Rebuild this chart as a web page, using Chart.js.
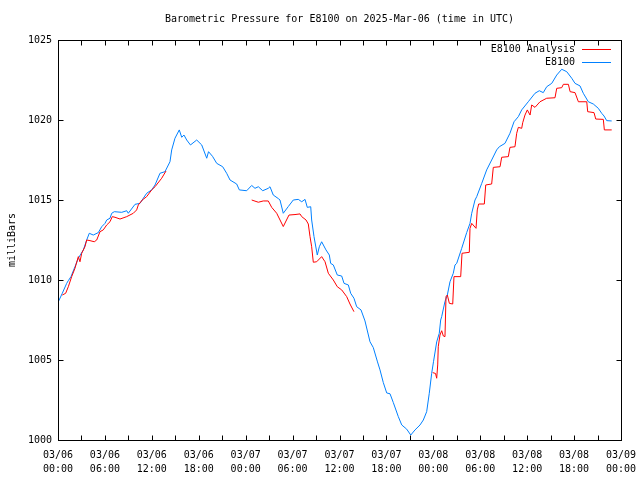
<!DOCTYPE html>
<html>
<head>
<meta charset="utf-8">
<script src="https://cdn.jsdelivr.net/npm/chart.js@4.4.1/dist/chart.umd.min.js"></script>
<style>
  html, body { margin: 0; padding: 0; background: #fff; }
  canvas { display: block; }
</style>
</head>
<body>
<canvas id="pressureChart" width="640" height="480"></canvas>
<script>
// hours since 03/06 00:00 UTC, pressure in millibars
const stationHours = [0.04, 0.55, 1.11, 1.32, 1.66, 2.17, 2.60, 3.24, 3.67, 4.00, 4.51, 5.15, 5.59, 6.01, 6.23, 6.65, 6.87, 7.20, 8.15, 8.79, 8.99, 9.85, 10.49, 10.91, 11.34, 11.98, 12.41, 13.04, 13.68, 14.32, 14.54, 14.96, 15.51, 15.82, 16.11, 16.46, 16.94, 17.74, 18.38, 19.02, 19.25, 19.76, 20.30, 21.06, 21.57, 22.00, 22.85, 23.19, 24.13, 24.77, 25.19, 25.62, 26.18, 26.89, 27.11, 27.53, 28.17, 28.39, 28.81, 29.45, 30.09, 30.73, 31.17, 31.59, 31.88, 32.32, 32.44, 32.74, 33.16, 33.42, 33.72, 34.27, 34.70, 34.87, 35.21, 35.72, 36.28, 36.58, 37.13, 37.43, 37.85, 38.20, 38.75, 39.26, 39.90, 40.32, 40.86, 41.18, 41.60, 42.04, 42.46, 42.88, 43.52, 43.96, 44.59, 45.11, 45.66, 46.30, 46.72, 47.15, 47.48, 47.79, 48.02, 48.43, 48.76, 48.94, 49.07, 49.49, 49.79, 50.13, 50.55, 50.77, 50.99, 51.63, 52.27, 52.69, 52.91, 53.33, 53.55, 54.19, 54.82, 55.46, 56.10, 56.44, 57.16, 57.80, 58.32, 58.87, 59.30, 60.14, 61.00, 61.55, 62.06, 62.50, 63.14, 63.78, 64.42, 65.06, 65.70, 66.12, 66.76, 67.18, 67.82, 68.46, 69.10, 69.53, 69.83, 70.17, 70.81];
const stationPressure = [1008.64, 1009.17, 1009.79, 1009.96, 1010.21, 1010.83, 1011.36, 1011.88, 1012.50, 1012.92, 1012.81, 1012.96, 1013.33, 1013.54, 1013.75, 1013.86, 1014.17, 1014.27, 1014.23, 1014.33, 1014.17, 1014.73, 1014.79, 1015.11, 1015.42, 1015.63, 1015.94, 1016.67, 1016.77, 1017.39, 1018.13, 1018.86, 1019.38, 1018.92, 1019.06, 1018.75, 1018.44, 1018.75, 1018.44, 1017.61, 1018.02, 1017.73, 1017.29, 1017.08, 1016.67, 1016.25, 1016.00, 1015.63, 1015.58, 1015.91, 1015.73, 1015.83, 1015.58, 1015.73, 1015.83, 1015.31, 1015.09, 1015.00, 1014.17, 1014.59, 1015.00, 1015.04, 1014.89, 1015.04, 1014.54, 1014.58, 1013.75, 1012.71, 1011.56, 1012.08, 1012.39, 1011.88, 1011.56, 1011.04, 1010.94, 1010.31, 1010.25, 1009.79, 1009.69, 1009.17, 1008.86, 1008.33, 1008.13, 1007.44, 1006.14, 1005.78, 1004.88, 1004.38, 1003.59, 1002.94, 1002.89, 1002.34, 1001.46, 1000.94, 1000.68, 1000.31, 1000.63, 1000.94, 1001.25, 1001.77, 1002.92, 1004.17, 1004.89, 1006.13, 1006.67, 1007.50, 1007.71, 1008.66, 1009.06, 1009.89, 1010.42, 1010.94, 1011.04, 1011.98, 1012.97, 1013.54, 1014.17, 1015.00, 1015.21, 1016.04, 1016.88, 1017.50, 1018.13, 1018.33, 1018.54, 1019.17, 1019.89, 1020.21, 1020.63, 1021.14, 1021.67, 1021.83, 1021.71, 1022.08, 1022.29, 1022.81, 1023.17, 1023.02, 1022.61, 1022.29, 1022.13, 1021.67, 1021.14, 1021.00, 1020.73, 1020.42, 1020.25, 1019.96, 1019.94];

// analysis series, null = no data (gap in the line)
const analysisHours = [0.55, 0.98, 1.32, 1.75, 2.17, 2.60, 2.81, 3.03, 3.45, 3.67, 4.09, 4.64, 4.95, 5.37, 5.79, 6.23, 6.65, 6.94, 7.29, 7.93, 8.79, 9.63, 10.06, 10.27, 10.78, 11.34, 11.98, 12.41, 13.26, 13.81,
    20.00,
    24.77, 25.62, 26.25, 26.89, 27.33, 27.97, 28.81, 29.54, 30.31, 30.95, 31.17, 31.72, 32.01, 32.23, 32.44, 32.65, 33.08, 33.72, 34.15, 34.57, 35.21, 35.72, 36.28, 36.92, 37.34, 37.85,
    42.00,
    47.92, 48.28, 48.43, 48.56, 48.63, 48.85, 49.07, 49.28, 49.49, 49.62, 49.79, 50.05, 50.48, 50.64, 51.50, 51.67, 52.60, 52.69, 52.91, 53.46, 53.62, 53.80, 54.52, 54.70, 55.46, 55.67, 56.53, 56.74, 57.59, 57.80, 58.44, 58.66, 58.87, 59.30, 59.43, 59.72, 60.02, 60.37, 60.58, 61.00, 61.64, 62.50, 63.56, 63.78, 64.42, 64.63, 65.27, 65.49, 66.12, 66.55, 67.62, 67.74, 68.55, 68.77, 69.74, 69.87, 70.81];
const analysisPressure = [1009.06, 1009.17, 1009.58, 1010.21, 1010.73, 1011.46, 1011.14, 1011.67, 1012.08, 1012.50, 1012.46, 1012.39, 1012.50, 1013.02, 1013.13, 1013.44, 1013.64, 1013.96, 1013.92, 1013.81, 1013.96, 1014.17, 1014.38, 1014.69, 1015.00, 1015.21, 1015.63, 1015.83, 1016.36, 1016.81,
    null,
    1015.00, 1014.86, 1014.94, 1014.94, 1014.54, 1014.17, 1013.34, 1014.06, 1014.09, 1014.13, 1013.96, 1013.75, 1013.50, 1012.71, 1012.08, 1011.11, 1011.14, 1011.46, 1011.14, 1010.42, 1010.00, 1009.58, 1009.38, 1008.96, 1008.50, 1008.02,
    null,
    1004.21, 1004.16, 1003.86, 1004.69, 1005.83, 1006.56, 1006.83, 1006.50, 1006.46, 1008.96, 1009.06, 1008.54, 1008.50, 1010.21, 1010.21, 1011.67, 1011.73, 1013.23, 1013.54, 1013.23, 1014.38, 1014.75, 1014.75, 1015.94, 1016.00, 1017.04, 1017.08, 1017.67, 1017.71, 1018.29, 1018.33, 1019.17, 1019.54, 1019.48, 1019.83, 1020.31, 1020.63, 1020.31, 1020.94, 1020.79, 1021.14, 1021.36, 1021.39, 1021.98, 1022.02, 1022.23, 1022.23, 1021.77, 1021.71, 1021.14, 1021.14, 1020.52, 1020.46, 1020.06, 1020.04, 1019.38, 1019.38];

const seriesNames = ['E8100 Analysis', 'E8100'];
const seriesColors = ['#ff0000', '#0080ff'];
const titleText = 'Barometric Pressure for E8100 on 2025-Mar-06 (time in UTC)';
const dayLabels = ['03/06', '03/07', '03/08', '03/09'];

const FONT = '10px "DejaVu Sans Mono", monospace';

function toPoints(xs, ys) {
    return xs.map((x, i) => ({ x: x, y: ys[i] }));
}

function tickLabel(value) {
    if (value % 6 !== 0) return '';
    const day = dayLabels[Math.floor(value / 24)];
    const hour = String(value % 24).padStart(2, '0') + ':00';
    return [day, hour];
}

// gnuplot style frame: box, inward ticks, title and legend inside the plot
const gnuplotFrame = {
    id: 'gnuplotFrame',
    afterDraw(chart) {
        const ctx = chart.ctx;
        const a = chart.chartArea;
        const xs = chart.scales.x;
        const ys = chart.scales.y;
        const L = Math.round(a.left) + 0.5, R = Math.round(a.right) + 0.5;
        const T = Math.round(a.top) + 0.5, B = Math.round(a.bottom) + 0.5;

        ctx.save();
        ctx.strokeStyle = '#000';
        ctx.lineWidth = 1;
        ctx.strokeRect(L, T, R - L, B - T);

        ctx.beginPath();
        for (let h = 0; h <= 72; h += 3) {
            const px = Math.round(xs.getPixelForValue(h)) + 0.5;
            ctx.moveTo(px, B); ctx.lineTo(px, B - 5);
            ctx.moveTo(px, T); ctx.lineTo(px, T + 5);
        }
        for (let p = 1000; p <= 1025; p += 5) {
            const py = Math.round(ys.getPixelForValue(p)) + 0.5;
            ctx.moveTo(L, py); ctx.lineTo(L + 5, py);
            ctx.moveTo(R, py); ctx.lineTo(R - 5, py);
        }
        ctx.stroke();

        ctx.font = FONT;
        ctx.fillStyle = '#000';
        ctx.textBaseline = 'middle';
        ctx.textAlign = 'center';
        ctx.fillText(titleText, (a.left + a.right) / 2, 19);

        ctx.textAlign = 'right';
        const rows = [49, 62];
        seriesNames.forEach((name, i) => {
            ctx.fillStyle = '#000';
            ctx.fillText(name, 575, rows[i]);
            ctx.strokeStyle = seriesColors[i];
            ctx.beginPath();
            ctx.moveTo(582, rows[i] + 0.5);
            ctx.lineTo(611, rows[i] + 0.5);
            ctx.stroke();
        });
        ctx.restore();
    }
};

new Chart(document.getElementById('pressureChart'), {
    type: 'line',
    data: {
        datasets: [{
            label: seriesNames[0],
            data: toPoints(analysisHours, analysisPressure),
            borderColor: seriesColors[0],
            borderWidth: 1,
            pointRadius: 0,
            tension: 0,
            spanGaps: false,
            fill: false
        }, {
            label: seriesNames[1],
            data: toPoints(stationHours, stationPressure),
            borderColor: seriesColors[1],
            borderWidth: 1,
            pointRadius: 0,
            tension: 0,
            fill: false
        }]
    },
    options: {
        responsive: false,
        animation: false,
        devicePixelRatio: 1,
        layout: { padding: { top: 40, right: 19, bottom: 0, left: 0 } },
        plugins: {
            legend: { display: false },
            title: { display: false },
            tooltip: { enabled: false }
        },
        scales: {
            x: {
                type: 'linear',
                min: 0,
                max: 72,
                grid: { display: false, drawTicks: false },
                border: { display: false },
                ticks: {
                    stepSize: 6,
                    autoSkip: false,
                    maxRotation: 0,
                    padding: 8,
                    color: '#000',
                    font: { family: '"DejaVu Sans Mono", monospace', size: 10, lineHeight: 1.4 },
                    callback: tickLabel
                },
                afterFit(scale) {
                    scale.height = 40;
                    scale.paddingLeft = 0;
                    scale.paddingRight = 0;
                }
            },
            y: {
                min: 1000,
                max: 1025,
                grid: { display: false, drawTicks: false },
                border: { display: false },
                ticks: {
                    stepSize: 5,
                    padding: 6,
                    color: '#000',
                    font: { family: '"DejaVu Sans Mono", monospace', size: 10 },
                    callback: v => String(v)
                },
                title: {
                    display: true,
                    text: 'milliBars',
                    color: '#000',
                    padding: { top: 6, bottom: 0 },
                    font: { family: '"DejaVu Sans Mono", monospace', size: 10 }
                },
                afterFit(scale) {
                    scale.width = 58;
                    scale.paddingTop = 0;
                    scale.paddingBottom = 0;
                }
            }
        }
    },
    plugins: [gnuplotFrame]
});
</script>
</body>
</html>
